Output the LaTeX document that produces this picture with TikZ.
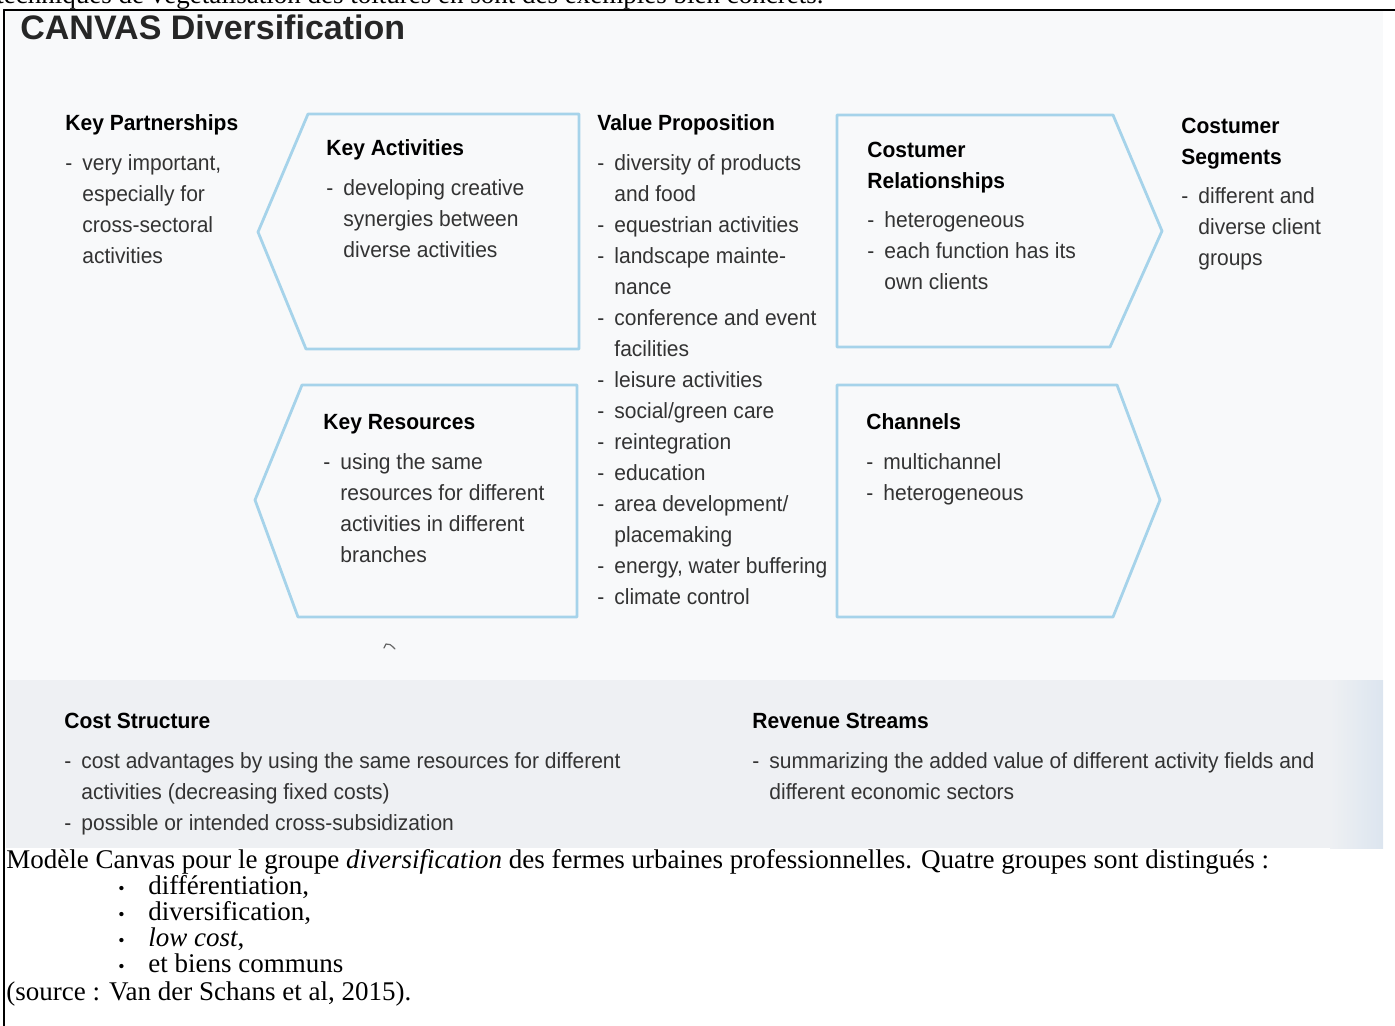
\documentclass[tikz,border=0pt]{standalone}
\usepackage{fontspec}
\setmainfont{Liberation Serif}
\newfontfamily\canvasfont[FakeStretch=0.955]{Liberation Sans}
\newfontfamily\canvastitle{Liberation Sans}
\usetikzlibrary{positioning}
\definecolor{hexblue}{HTML}{A6D3EA}
\definecolor{canvasbg}{HTML}{F8F9FA}
\definecolor{bandbg}{HTML}{EEF0F3}
\definecolor{bandedge}{HTML}{DCE5EF}
\definecolor{itemgray}{HTML}{333333}
\newcommand*\myitem[1]{\makebox[8.5pt][l]{-}#1}
\newcommand*\mymore[1]{\hspace*{8.5pt}#1}
\tikzset{
  hexline/.style={draw=hexblue,line width=1.4pt},
  blocktext/.style={anchor=north west,inner sep=0pt,align=left,text=itemgray,
    font=\canvasfont\fontsize{11}{15.5}\selectfont},
  captext/.style={anchor=base west,inner sep=0pt,font=\fontsize{13.5}{15}\selectfont},
}
\begin{document}
\begin{tikzpicture}[x=0.5pt,y=-0.5pt,line cap=round,line join=round]
\useasboundingbox (0,0) rectangle (1395,1026);
% scanned canvas
\fill[canvasbg] (6,11) rectangle (1383,848);
\fill[bandbg] (6,680) rectangle (1383,848);
\shade[left color=bandbg,right color=bandedge] (1330,680) rectangle (1383,848);

% line cut at the top
\node[captext] (cut) at (-4,4) {techniques de végétalisation des toitures en sont des exemples bien concrets.};
\draw[line width=1pt] (4,10) -- (1395,10);
\draw[line width=1pt] (4,10) -- (4,1026);

\node[anchor=base west,inner sep=0pt,text=black!85,font=\canvastitle\fontsize{17}{20}\selectfont\bfseries] (title) at (20,40) {CANVAS Diversification};

\coordinate (KA1) at (308,114);
\coordinate (KA2) at (579,114);
\coordinate (KA3) at (579,349);
\coordinate (KA4) at (306,349);
\coordinate (KA5) at (258,232);
\draw[hexline] (KA1) -- (KA2) -- (KA3) -- (KA4) -- (KA5) -- cycle;

\coordinate (KR1) at (302,385);
\coordinate (KR2) at (577,385);
\coordinate (KR3) at (577,617);
\coordinate (KR4) at (298,617);
\coordinate (KR5) at (255,500);
\draw[hexline] (KR1) -- (KR2) -- (KR3) -- (KR4) -- (KR5) -- cycle;

\coordinate (CR1) at (837,115);
\coordinate (CR2) at (1113,115);
\coordinate (CR3) at (1162,231);
\coordinate (CR4) at (1110,347);
\coordinate (CR5) at (837,347);
\draw[hexline] (CR1) -- (CR2) -- (CR3) -- (CR4) -- (CR5) -- cycle;

\coordinate (CH1) at (837,385);
\coordinate (CH2) at (1117,385);
\coordinate (CH3) at (1160,500);
\coordinate (CH4) at (1113,617);
\coordinate (CH5) at (837,617);
\draw[hexline] (CH1) -- (CH2) -- (CH3) -- (CH4) -- (CH5) -- cycle;

\node[blocktext] (kp) at (65,108) {\strut{\color{black}\bfseries Key Partnerships}\\[4.5pt]
  \myitem{very important,}\\ \mymore{especially for}\\ \mymore{cross-sectoral}\\ \mymore{activities}};
\node[blocktext] (ka) at (326,133) {\strut{\color{black}\bfseries Key Activities}\\[4.5pt]
  \myitem{developing creative}\\ \mymore{synergies between}\\ \mymore{diverse activities}};
\node[blocktext] (vp) at (597,108) {\strut{\color{black}\bfseries Value Proposition}\\[4.5pt]
  \myitem{diversity of products}\\ \mymore{and food}\\ \myitem{equestrian activities}\\
  \myitem{landscape mainte-}\\ \mymore{nance}\\ \myitem{conference and event}\\
  \mymore{facilities}\\ \myitem{leisure activities}\\ \myitem{social/green care}\\
  \myitem{reintegration}\\ \myitem{education}\\ \myitem{area development/}\\
  \mymore{placemaking}\\ \myitem{energy, water buffering}\\ \myitem{climate control}};
\node[blocktext] (cr) at (867,135) {\strut{\color{black}\bfseries Costumer}\\{\color{black}\bfseries Relationships}\\[4pt]
  \myitem{heterogeneous}\\ \myitem{each function has its}\\ \mymore{own clients}};
\node[blocktext] (cs) at (1181,111) {\strut{\color{black}\bfseries Costumer}\\{\color{black}\bfseries Segments}\\[4pt]
  \myitem{different and}\\ \mymore{diverse client}\\ \mymore{groups}};
\node[blocktext] (kr) at (323,407) {\strut{\color{black}\bfseries Key Resources}\\[4.5pt]
  \myitem{using the same}\\ \mymore{resources for different}\\ \mymore{activities in different}\\ \mymore{branches}};
\node[blocktext] (ch) at (866,407) {\strut{\color{black}\bfseries Channels}\\[4.5pt]
  \myitem{multichannel}\\ \myitem{heterogeneous}};
\node[blocktext] (cost) at (64,706) {\strut{\color{black}\bfseries Cost Structure}\\[4.5pt]
  \myitem{cost advantages by using the same resources for different}\\
  \mymore{activities (decreasing fixed costs)}\\ \myitem{possible or intended cross-subsidization}};
\node[blocktext] (rev) at (752,706) {\strut{\color{black}\bfseries Revenue Streams}\\[4.5pt]
  \myitem{summarizing the added value of different activity fields and}\\
  \mymore{different economic sectors}};

% scan speck
\draw[black!60,line width=0.6pt] (384,648) -- (386,644) .. controls (389,643) and (391,645) .. (395,649);

% caption below the picture
\node[captext] (cap) at (6,868) {Modèle Canvas pour le groupe \textit{diversification} des fermes urbaines professionnelles. Quatre groupes sont distingués :};
\foreach \y/\txt [count=\i] in {894/{différentiation,},920/{diversification,},946/{\textit{low cost},},972/{et biens communs}}{
  \node[captext,font=\small] (bul\i) at (118,\y) {•};
  \node[captext] (itm\i) at (148,\y) {\txt};
}
\node[captext] (src) at (6,1000) {(source : Van der Schans et al, 2015).};
\end{tikzpicture}
\end{document}
